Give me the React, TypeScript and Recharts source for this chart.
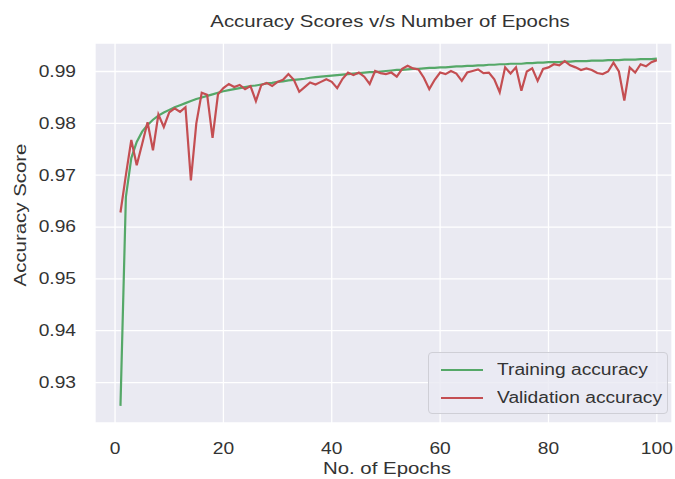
import { CartesianGrid, Line, LineChart, XAxis, YAxis } from 'recharts'

const epochs = Array.from({ length: 100 }, (_, i) => i + 1)

const trainingAccuracy = [
  0.9255, 0.9658, 0.9733, 0.9764, 0.9784, 0.9797, 0.9807, 0.9815, 0.9821, 0.9826,
  0.9831, 0.9835, 0.9839, 0.9843, 0.9847, 0.985, 0.9853, 0.9856, 0.9859, 0.9862,
  0.9864, 0.9866, 0.9868, 0.987, 0.9872, 0.9873, 0.9875, 0.9877, 0.9878, 0.988,
  0.9881, 0.9883, 0.9884, 0.9885, 0.9886, 0.9888, 0.9889, 0.989, 0.9891, 0.9892,
  0.9893, 0.9894, 0.9895, 0.9896, 0.9897, 0.9898, 0.9899, 0.9899, 0.99, 0.9901,
  0.9902, 0.9903, 0.9903, 0.9904, 0.9905, 0.9905, 0.9906, 0.9907, 0.9907, 0.9908,
  0.9908, 0.9909, 0.991, 0.991, 0.9911, 0.9911, 0.9912, 0.9912, 0.9913, 0.9913,
  0.9914, 0.9914, 0.9915, 0.9915, 0.9915, 0.9916, 0.9916, 0.9917, 0.9917, 0.9918,
  0.9918, 0.9918, 0.9919, 0.9919, 0.992, 0.992, 0.992, 0.9921, 0.9921, 0.9921,
  0.9922, 0.9922, 0.9922, 0.9923, 0.9923, 0.9923, 0.9924, 0.9924, 0.9924, 0.9925,
]

const validationAccuracy = [
  0.9628, 0.97, 0.9768, 0.9719, 0.976, 0.9802, 0.9748, 0.9817, 0.9793, 0.9821,
  0.9829, 0.9822, 0.9831, 0.969, 0.98, 0.9859, 0.9855, 0.9772, 0.9856, 0.9868,
  0.9876, 0.987, 0.9874, 0.9866, 0.9872, 0.9843, 0.9874, 0.9878, 0.9872, 0.988,
  0.9884, 0.9895, 0.9884, 0.9861, 0.987, 0.9879, 0.9875, 0.988, 0.9885, 0.988,
  0.9868, 0.9886, 0.9898, 0.9893, 0.9898, 0.989, 0.9876, 0.9901, 0.9897, 0.9895,
  0.9898, 0.989, 0.9905, 0.9911, 0.9906, 0.9904, 0.9888, 0.9866, 0.9884, 0.9898,
  0.9895, 0.9901, 0.9896, 0.9882, 0.9898, 0.9901, 0.9904, 0.9897, 0.9898, 0.9885,
  0.986, 0.9908, 0.9896, 0.9908, 0.9863, 0.99, 0.9906, 0.9882, 0.9905, 0.9908,
  0.9914, 0.9912, 0.992, 0.9912, 0.9908, 0.9903, 0.9906, 0.9903, 0.9897, 0.9895,
  0.99, 0.9917, 0.99, 0.9844, 0.9908, 0.9898, 0.9914, 0.991, 0.9918, 0.9922,
]

const xTicks = [0, 20, 40, 60, 80, 100]
const yTicks = [0.93, 0.94, 0.95, 0.96, 0.97, 0.98, 0.99]

const series = [
  { key: 'train', name: 'Training accuracy', color: '#55A868' },
  { key: 'val', name: 'Validation accuracy', color: '#C44E52' },
]

const data = epochs.map((epoch, i) => ({
  epoch,
  train: trainingAccuracy[i],
  val: validationAccuracy[i],
}))

const INK = '#333333'
const FONT = 'Arial, "Liberation Sans", sans-serif'
// the reference is a bit wider than tall, so text is stretched sideways
const STRETCH = 1.2

function XTick({ x, y, payload }: any) {
  return (
    <g transform={`translate(${x},${y + 26})`}>
      <text
        transform={`scale(${STRETCH},1)`}
        textAnchor="middle"
        dominantBaseline="central"
        fontSize={16}
        fontFamily={FONT}
        fill={INK}
      >
        {payload.value}
      </text>
    </g>
  )
}

function YTick({ x, y, payload }: any) {
  return (
    <g transform={`translate(${x},${y})`}>
      <text
        transform={`scale(${STRETCH},1)`}
        textAnchor="end"
        dominantBaseline="central"
        fontSize={16}
        fontFamily={FONT}
        fill={INK}
      >
        {payload.value.toFixed(2)}
      </text>
    </g>
  )
}

const textStyle = {
  position: 'absolute' as const,
  fontFamily: FONT,
  color: INK,
  whiteSpace: 'nowrap' as const,
  lineHeight: 1,
}

export default function App() {
  return (
    <div style={{ position: 'absolute', left: 0, top: 0, width: 675, height: 479, background: '#fff', overflow: 'hidden' }}>
      <LineChart width={675} height={479} data={data} margin={{ top: 43, right: 3, bottom: 0, left: 0 }}>
        <CartesianGrid fill="#EAEAF2" stroke="#ffffff" strokeWidth={1.3} />
        <XAxis
          dataKey="epoch"
          type="number"
          domain={[-3.7, 102.8]}
          allowDataOverflow
          ticks={xTicks}
          height={56}
          axisLine={false}
          tickLine={false}
          tickSize={0}
          tickMargin={0}
          tick={<XTick />}
        />
        <YAxis
          type="number"
          domain={[0.9222, 0.9955]}
          allowDataOverflow
          ticks={yTicks}
          width={95}
          axisLine={false}
          tickLine={false}
          tickSize={0}
          tickMargin={19}
          tick={<YTick />}
        />
        {series.map((s) => (
          <Line
            key={s.key}
            dataKey={s.key}
            name={s.name}
            stroke={s.color}
            strokeWidth={2.2}
            dot={false}
            type="linear"
            isAnimationActive={false}
          />
        ))}
      </LineChart>

      <div style={{ ...textStyle, left: 390, top: 13, fontSize: 17, transform: `translateX(-50%) scaleX(${STRETCH})` }}>
        Accuracy Scores v/s Number of Epochs
      </div>
      <div style={{ ...textStyle, left: 387, top: 460, fontSize: 17, transform: `translateX(-50%) scaleX(${STRETCH})` }}>
        No. of Epochs
      </div>
      <div
        style={{
          ...textStyle,
          left: 20,
          top: 215,
          fontSize: 17,
          transform: `translate(-50%,-50%) rotate(-90deg) scaleX(${STRETCH})`,
        }}
      >
        Accuracy Score
      </div>

      <div
        style={{
          position: 'absolute',
          left: 428,
          top: 352,
          width: 240,
          height: 62,
          boxSizing: 'border-box',
          background: 'rgba(234,234,242,0.8)',
          border: '1px solid #cfcfd6',
          borderRadius: 4,
        }}
      >
        {series.map((s, i) => (
          <div key={s.key} style={{ position: 'absolute', left: 12, top: 8 + i * 28, height: 18, display: 'flex', alignItems: 'center' }}>
            <div style={{ width: 42, height: 2, background: s.color }} />
            <div
              style={{
                ...textStyle,
                position: 'relative',
                marginLeft: 14,
                fontSize: 16,
                transformOrigin: 'left center',
                transform: `scaleX(${STRETCH})`,
              }}
            >
              {s.name}
            </div>
          </div>
        ))}
      </div>
    </div>
  )
}
